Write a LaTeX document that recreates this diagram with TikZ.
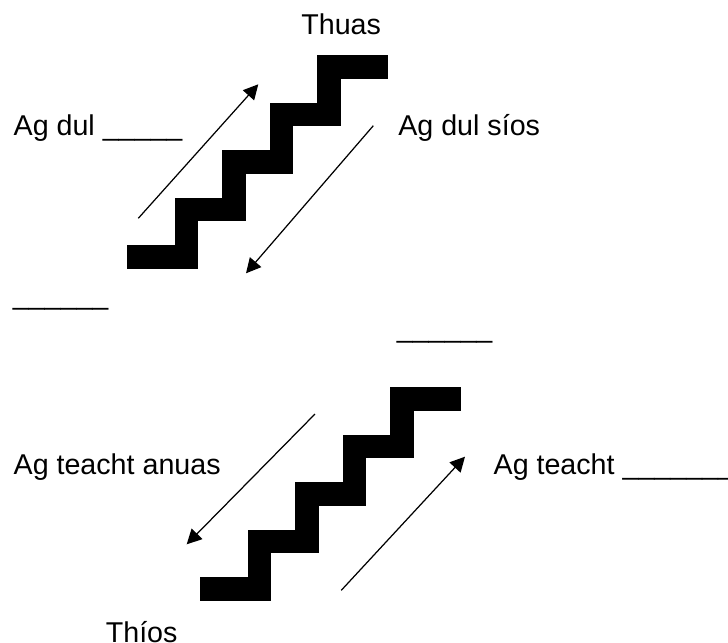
\documentclass[tikz,border=0pt]{standalone}
\usepackage{fontspec}
\setmainfont{Liberation Sans}
\usetikzlibrary{arrows.meta}
\tikzset{
  stairs/.style={line width=13.45pt},
  arr/.style={->, line width=0.7pt},
  lbl/.style={anchor=base west, inner sep=0pt, font=\fontsize{16.3}{19.6}\selectfont},
}
\begin{document}
\begin{tikzpicture}[x=0.02cm, y=-0.02cm, >={Triangle[length=8.4pt,width=8.5pt]}]
  \useasboundingbox (0,0) rectangle (728,643);
  % the two flights of stairs
  \foreach \sx/\sy in {127/269, 200/601}
    \draw[stairs] (\sx,\sy) ++(0,-11.85) -- ++(59.35,0) -- ++(0,-47.5) -- ++(47.5,0)
      -- ++(0,-47.5) -- ++(47.5,0) -- ++(0,-47.5) -- ++(47.5,0) -- ++(0,-47.5) -- ++(59.35,0);
  % arrow ends
  \coordinate (upA) at (138.3,218.3);
  \coordinate (upB) at (258.3,84.3);
  \coordinate (downA) at (373.3,125.7);
  \coordinate (downB) at (246,273.3);
  \coordinate (comeA) at (315,414);
  \coordinate (comeB) at (186.7,544.3);
  \coordinate (goA) at (341.2,590.4);
  \coordinate (goB) at (465,456.7);
  \draw[arr] (upA) -- (upB);
  \draw[arr] (downA) -- (downB);
  \draw[arr] (comeA) -- (comeB);
  \draw[arr] (goA) -- (goB);
  % labels
  \node[lbl] (thuas) at (301,34.5) {Thuas};
  \node[lbl] (agdul) at (13.3,135) {Ag dul \_\_\_\_\_};
  \node[lbl] (agdulsios) at (398,135) {Ag dul síos};
  \node[lbl] (blankL) at (12.5,304) {\_\_\_\_\_\_};
  \node[lbl] (blankR) at (396.5,337.3) {\_\_\_\_\_\_};
  \node[lbl] (anuas) at (13.3,474.3) {Ag teacht anuas};
  \node[lbl] (agteacht) at (493.3,474.3) {Ag teacht \_\_\_\_\_\_\_};
  \node[lbl] (thios) at (105.5,642) {Thíos};
\end{tikzpicture}
\end{document}
